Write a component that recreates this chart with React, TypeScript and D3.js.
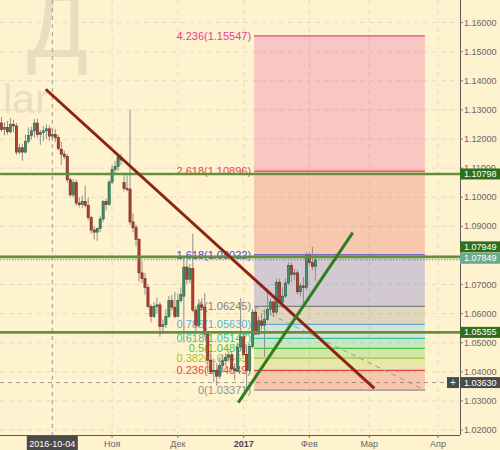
import React from 'react';
import * as d3 from 'd3';

const W = 500;
const H = 450;

// first candle date; candles are daily (weekdays only)
const startDate = '2016-09-09';

// [open, high, low, close]
const candles: [number, number, number, number][] = [
  [1.1255, 1.1275, 1.1225, 1.1233],
  [1.1233, 1.1258, 1.1212, 1.1240],
  [1.1240, 1.1262, 1.1215, 1.1225],
  [1.1225, 1.1272, 1.1218, 1.1250],
  [1.1250, 1.1266, 1.1222, 1.1245],
  [1.1245, 1.1255, 1.1145, 1.1155],
  [1.1155, 1.1185, 1.1148, 1.1170],
  [1.1170, 1.1182, 1.1125, 1.1155],
  [1.1155, 1.1215, 1.1150, 1.1192],
  [1.1192, 1.1240, 1.1185, 1.1212],
  [1.1212, 1.1242, 1.1198, 1.1228],
  [1.1228, 1.1268, 1.1205, 1.1255],
  [1.1255, 1.1270, 1.1205, 1.1215],
  [1.1215, 1.1232, 1.1180, 1.1222],
  [1.1222, 1.1245, 1.1192, 1.1228],
  [1.1228, 1.1250, 1.1200, 1.1235],
  [1.1235, 1.1247, 1.1195, 1.1210],
  [1.1210, 1.1240, 1.1195, 1.1215],
  [1.1215, 1.1235, 1.1190, 1.1205],
  [1.1205, 1.1215, 1.1160, 1.1168],
  [1.1165, 1.1190, 1.1112, 1.1148],
  [1.1148, 1.1160, 1.1130, 1.1140],
  [1.1140, 1.1148, 1.1050, 1.1060],
  [1.1060, 1.1068, 1.1000, 1.1008],
  [1.1008, 1.1062, 1.1000, 1.1050],
  [1.1050, 1.1060, 1.0970, 1.0980],
  [1.0980, 1.1000, 1.0965, 1.0975],
  [1.0975, 1.1005, 1.0962, 1.0985],
  [1.0985, 1.1040, 1.0965, 1.0972],
  [1.0972, 1.1000, 1.0920, 1.0930],
  [1.0930, 1.0935, 1.0875, 1.0887],
  [1.0887, 1.0900, 1.0855, 1.0880],
  [1.0880, 1.0895, 1.0850, 1.0892],
  [1.0892, 1.0935, 1.0880, 1.0925],
  [1.0925, 1.0990, 1.0915, 1.0985],
  [1.0985, 1.0995, 1.0955, 1.0975],
  [1.0975, 1.1060, 1.0970, 1.1052],
  [1.1052, 1.1110, 1.1045, 1.1095],
  [1.1095, 1.1125, 1.1080, 1.1105],
  [1.1105, 1.1145, 1.1090, 1.1138],
  [1.1138, 1.1150, 1.1110, 1.1128],
  [1.1050, 1.1075, 1.1020, 1.1030],
  [1.1030, 1.1075, 1.1020, 1.1028],
  [1.1028, 1.1300, 1.0905, 1.0915],
  [1.0915, 1.0945, 1.0880, 1.0895],
  [1.0895, 1.0905, 1.0830, 1.0855],
  [1.0855, 1.0860, 1.0710, 1.0740],
  [1.0740, 1.0780, 1.0705, 1.0720],
  [1.0720, 1.0740, 1.0665, 1.0690],
  [1.0690, 1.0700, 1.0618, 1.0625],
  [1.0625, 1.0632, 1.0570, 1.0590],
  [1.0590, 1.0640, 1.0585, 1.0625],
  [1.0625, 1.0655, 1.0600, 1.0630],
  [1.0630, 1.0640, 1.0520, 1.0555],
  [1.0555, 1.0580, 1.0530, 1.0562],
  [1.0562, 1.0615, 1.0550, 1.0590],
  [1.0590, 1.0660, 1.0585, 1.0645],
  [1.0645, 1.0665, 1.0610, 1.0622],
  [1.0622, 1.0675, 1.0585, 1.0590],
  [1.0590, 1.0670, 1.0588, 1.0645],
  [1.0645, 1.0690, 1.0638, 1.0665],
  [1.0660, 1.0795, 1.0505, 1.0760],
  [1.0760, 1.0790, 1.0700, 1.0718],
  [1.0718, 1.0770, 1.0705, 1.0755],
  [1.0755, 1.0875, 1.0605, 1.0612],
  [1.0612, 1.0625, 1.0540, 1.0560],
  [1.0560, 1.0650, 1.0550, 1.0630],
  [1.0630, 1.0652, 1.0610, 1.0622],
  [1.0622, 1.0670, 1.0520, 1.0530],
  [1.0530, 1.0535, 1.0395, 1.0440],
  [1.0440, 1.0470, 1.0392, 1.0400],
  [1.0400, 1.0445, 1.0365, 1.0405],
  [1.0405, 1.0430, 1.0352, 1.0385],
  [1.0385, 1.0450, 1.0375, 1.0422],
  [1.0422, 1.0460, 1.0405, 1.0438],
  [1.0438, 1.0465, 1.0420, 1.0450],
  [1.0450, 1.0470, 1.0435, 1.0458],
  [1.0458, 1.0472, 1.0400, 1.0410],
  [1.0410, 1.0430, 1.0372, 1.0405],
  [1.0405, 1.0500, 1.0398, 1.0485],
  [1.0485, 1.0653, 1.0470, 1.0520],
  [1.0520, 1.0530, 1.0455, 1.0460],
  [1.0460, 1.0490, 1.0337, 1.0405],
  [1.0405, 1.0495, 1.0395, 1.0487],
  [1.0487, 1.0615, 1.0480, 1.0605],
  [1.0605, 1.0620, 1.0525, 1.0530],
  [1.0530, 1.0590, 1.0525, 1.0575],
  [1.0575, 1.0600, 1.0545, 1.0560],
  [1.0560, 1.0615, 1.0452, 1.0580],
  [1.0580, 1.0685, 1.0575, 1.0615],
  [1.0615, 1.0650, 1.0595, 1.0640],
  [1.0640, 1.0645, 1.0590, 1.0605],
  [1.0605, 1.0720, 1.0595, 1.0708],
  [1.0708, 1.0720, 1.0630, 1.0640],
  [1.0640, 1.0690, 1.0620, 1.0660],
  [1.0660, 1.0720, 1.0655, 1.0705],
  [1.0705, 1.0775, 1.0700, 1.0765],
  [1.0765, 1.0775, 1.0710, 1.0735],
  [1.0735, 1.0755, 1.0715, 1.0740],
  [1.0740, 1.0750, 1.0665, 1.0675],
  [1.0675, 1.0705, 1.0660, 1.0695],
  [1.0695, 1.0725, 1.0620, 1.0690],
  [1.0690, 1.0812, 1.0680, 1.0800],
  [1.0800, 1.0810, 1.0765, 1.0775],
  [1.0775, 1.0830, 1.0750, 1.0762],
  [1.0762, 1.0790, 1.0712, 1.07849],
];

const priceTicks = [1.02, 1.03, 1.04, 1.05, 1.06, 1.07, 1.08, 1.09, 1.1, 1.11, 1.12, 1.13, 1.14, 1.15, 1.16];

const timeTickDates = ['2016-11-01', '2016-12-01', '2017-01-02', '2017-02-01', '2017-03-01', '2017-04-03'];
const timeTickLabels = ['Ноя', 'Дек', '2017', 'Фев', 'Мар', 'Апр'];
const yearTicks = ['2017'];

const fibRatios = ['4.236', '2.618', '1.618', '1', '0.786', '0.618', '0.5', '0.382', '0.236', '0'];
const fibPrices = [1.15547, 1.10896, 1.08022, 1.06245, 1.0563, 1.05147, 1.04808, 1.04469, 1.04049, 1.03371];
// fib tool span, in bar index units
const fibFromBar = 84.5;
const fibToBar = 141.6;

// horizontal levels
const levelPrices = [1.10798, 1.07949, 1.05355];
const lastPrice = 1.07849;
const crossPrice = 1.0363;
const crossDate = '2016-10-04';

// trend lines: [bar index, price]
const downTrend: [number, number][] = [[14.8, 1.1371], [124.7, 1.0343]];
const upTrend: [number, number][] = [[79.2, 1.0294], [117.5, 1.0878]];

// styles
const BG = '#fff3cf';
const fibColors = ['#e6409a', '#e5474a', '#4a4ad8', '#808080', '#5aaee0', '#2cc79a', '#4cc43c', '#a3c43a', '#e04444', '#909090'];
const FONT = 'Liberation Sans, Arial, sans-serif';

function tradingDays(start: string, count: number): string[] {
  const out: string[] = [];
  const d = new Date(start + 'T00:00:00Z');
  while (out.length < count) {
    const wd = d.getUTCDay();
    if (wd !== 0 && wd !== 6) out.push(d.toISOString().slice(0, 10));
    d.setUTCDate(d.getUTCDate() + 1);
  }
  return out;
}

export default function App() {
  const days = tradingDays(startDate, 170);
  const idx = (s: string) => days.indexOf(s);

  const plotR = 460;
  const plotB = 435;

  const x = d3.scaleLinear().domain([idx(crossDate), idx('2017-04-03')]).range([52.3, 438]);
  const y = d3.scaleLinear().domain([1.02, 1.16]).range([430, 22.6]);

  const line = d3
    .line<[number, number]>()
    .x((d) => x(d[0]))
    .y((d) => y(d[1]));

  const fx0 = x(fibFromBar);
  const fx1 = x(fibToBar);

  const crossX = x(idx(crossDate));

  // price-axis label boxes: [price, fill, vertical nudge]
  const boxes: [number, string, number][] = [
    [levelPrices[0], '#2f6e1c', 0],
    [levelPrices[1], '#2f6e1c', -10],
    [lastPrice, '#6aab8e', -1.5],
    [levelPrices[2], '#2f6e1c', 0],
    [crossPrice, '#4a4a4a', 0],
  ];
  const boxCenters = boxes.map((b) => y(b[0]) + b[2]);
  const visibleTicks = priceTicks.filter((p) => boxCenters.every((c) => Math.abs(c - y(p)) > 5));

  return (
    <svg
      width={W}
      height={H}
      style={{ position: 'absolute', left: 0, top: 0, display: 'block' }}
      xmlns="http://www.w3.org/2000/svg"
    >
      <defs>
        <clipPath id="plot">
          <rect x={0} y={0} width={plotR} height={plotB} />
        </clipPath>
      </defs>
      <rect x={0} y={0} width={W} height={H} fill={BG} />

      <g clipPath="url(#plot)">
        {/* watermark */}
        <text x={27} y={57} fontSize={90} fill="#e9dfc0" fontFamily={FONT}>
          Д
        </text>
        <text x={3} y={113} fontSize={41} fill="#e9dfc0" fontFamily={FONT}>
          lar
        </text>

        {/* grid */}
        {priceTicks.map((p) => (
          <line key={'gh' + p} x1={0} x2={plotR} y1={y(p)} y2={y(p)} stroke="#e2dccb" strokeDasharray="5,4" />
        ))}
        {timeTickDates.map((d) => (
          <line key={'gv' + d} x1={x(idx(d))} x2={x(idx(d))} y1={0} y2={plotB} stroke="#e2dccb" strokeDasharray="5,4" />
        ))}

        {/* crosshair */}
        <line x1={crossX} x2={crossX} y1={0} y2={plotB} stroke="#9a9a9a" strokeDasharray="4,4" />
        <line x1={0} x2={plotR} y1={y(crossPrice)} y2={y(crossPrice)} stroke="#9a9a9a" strokeDasharray="4,4" />

        {/* fib bands */}
        {fibPrices.slice(0, -1).map((p, k) => (
          <rect
            key={'fb' + k}
            x={fx0}
            y={y(p)}
            width={fx1 - fx0}
            height={y(fibPrices[k + 1]) - y(p)}
            fill={fibColors[k]}
            fillOpacity={0.25}
          />
        ))}
        {fibPrices.map((p, k) => (
          <line key={'fl' + k} x1={fx0} x2={fx1} y1={y(p)} y2={y(p)} stroke={fibColors[k]} strokeWidth={1.2} />
        ))}
        {fibPrices.map((p, k) => (
          <text
            key={'ft' + k}
            x={fx0 - 3}
            y={y(p)}
            textAnchor="end"
            dominantBaseline="central"
            fontSize={11}
            fill={fibColors[k]}
            fontFamily={FONT}
          >
            {`${fibRatios[k]}(${p.toFixed(5)})`}
          </text>
        ))}
        <path
          d={line([[fibFromBar, fibPrices[3]], [fibToBar, fibPrices[9]]]) || ''}
          stroke="#999"
          strokeWidth={1}
          strokeDasharray="5,4"
          fill="none"
        />

        {/* candles */}
        {candles.map((c, i) => {
          const [o, h, l, cl] = c;
          const cx = x(i);
          const up = cl >= o;
          const top = y(Math.max(o, cl));
          const bot = y(Math.min(o, cl));
          return (
            <g key={'c' + i}>
              <line x1={cx} x2={cx} y1={y(h)} y2={y(l)} stroke="#8e8e8e" strokeWidth={1} />
              <rect
                x={cx - 1.1}
                y={top}
                width={2.2}
                height={Math.max(1, bot - top)}
                fill={up ? '#3f8f68' : '#b5402f'}
                stroke={up ? '#2a5f45' : '#6e2219'}
                strokeWidth={0.6}
              />
            </g>
          );
        })}

        {/* horizontal levels */}
        {levelPrices.map((p) => (
          <line key={'lv' + p} x1={0} x2={plotR} y1={y(p)} y2={y(p)} stroke="#62903c" strokeWidth={2.6} />
        ))}
        <line x1={0} x2={plotR} y1={y(lastPrice)} y2={y(lastPrice)} stroke="#5f9c7c" strokeWidth={1} strokeDasharray="1.5,1.5" />

        {/* trend lines */}
        <path d={line(downTrend) || ''} stroke="#8c2410" strokeWidth={3} fill="none" />
        <path d={line(upTrend) || ''} stroke="#2f7d22" strokeWidth={3} fill="none" />
      </g>

      {/* axes */}
      <line x1={plotR + 0.5} x2={plotR + 0.5} y1={0} y2={plotB} stroke="#5a5a5a" />
      <line x1={0} x2={plotR} y1={plotB + 0.5} y2={plotB + 0.5} stroke="#5a5a5a" />

      {priceTicks.map((p) => (
        <line key={'ptm' + p} x1={plotR} x2={plotR + 3} y1={y(p)} y2={y(p)} stroke="#777" />
      ))}
      {visibleTicks.map((p) => (
        <text key={'pt' + p} x={464} y={y(p)} dominantBaseline="central" fontSize={9} fill="#666" fontFamily={FONT}>
          {p.toFixed(5)}
        </text>
      ))}

      {timeTickDates.map((d, k) => (
        <g key={'tt' + d}>
          <line x1={x(idx(d))} x2={x(idx(d))} y1={plotB} y2={plotB + 3} stroke="#777" />
          <text
            x={x(idx(d))}
            y={443.5}
            textAnchor="middle"
            dominantBaseline="central"
            fontSize={9}
            fontWeight={yearTicks.includes(timeTickLabels[k]) ? 'bold' : 'normal'}
            fill={yearTicks.includes(timeTickLabels[k]) ? '#444' : '#666'}
            fontFamily={FONT}
          >
            {timeTickLabels[k]}
          </text>
        </g>
      ))}

      {/* crosshair time label */}
      <rect x={crossX - 25.5} y={plotB + 1} width={51} height={14} fill="#4a4a4a" />
      <text x={crossX} y={443.5} textAnchor="middle" dominantBaseline="central" fontSize={9} fill="#fff" fontFamily={FONT}>
        {crossDate}
      </text>

      {/* price labels */}
      {boxes.map(([p, fill], k) => (
        <g key={'bx' + k}>
          <rect x={plotR} y={boxCenters[k] - 5.5} width={40} height={11} fill={fill} />
          <text x={464} y={boxCenters[k]} dominantBaseline="central" fontSize={9} fill="#fff" fontFamily={FONT}>
            {p.toFixed(5)}
          </text>
        </g>
      ))}
      <rect x={447} y={y(crossPrice) - 5.5} width={12} height={11} fill="#4a4a4a" />
      <text x={453} y={y(crossPrice)} textAnchor="middle" dominantBaseline="central" fontSize={10} fill="#fff" fontFamily={FONT}>
        +
      </text>
    </svg>
  );
}
